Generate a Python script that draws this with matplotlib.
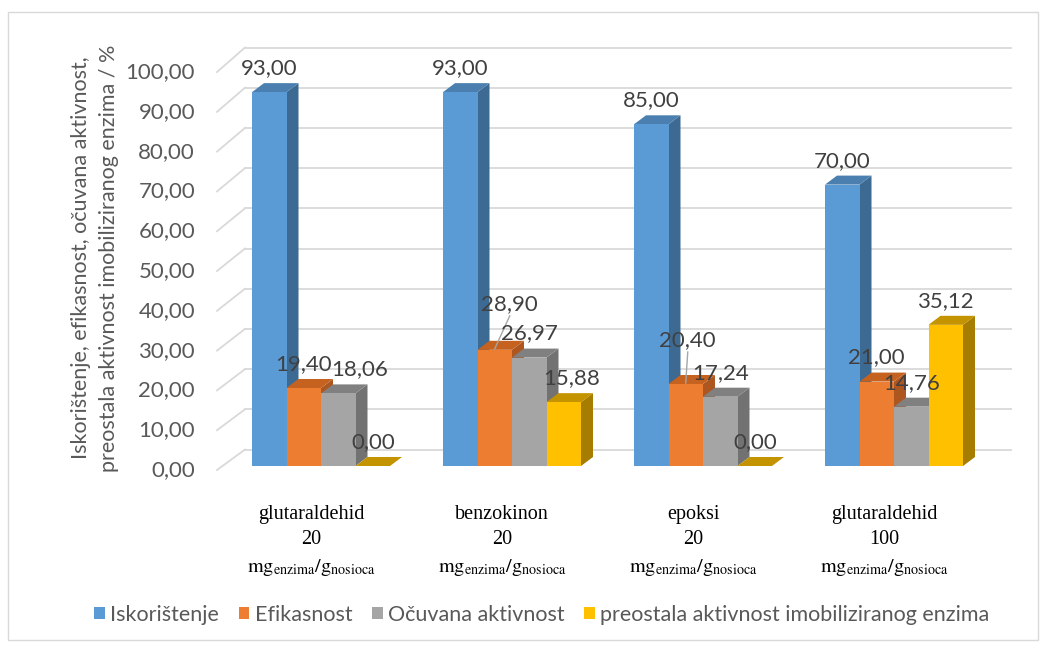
import matplotlib.pyplot as plt
from matplotlib.patches import Polygon, Rectangle

plt.rcParams['font.family'] = ['Lato', 'DejaVu Sans']
plt.rcParams['mathtext.fontset'] = 'stix'

categories = ["glutaraldehid\n20", "benzokinon\n20", "epoksi\n20", "glutaraldehid\n100"]
unit_label = r"$\mathrm{mg_{enzima}/g_{nosioca}}$"
series = ["Iskorištenje", "Efikasnost", "Očuvana aktivnost",
          "preostala aktivnost imobiliziranog enzima"]
iskoristenje = [93.00, 93.00, 85.00, 70.00]
efikasnost = [19.40, 28.90, 20.40, 21.00]
ocuvana = [18.06, 26.97, 17.24, 14.76]
preostala = [0.00, 15.88, 0.00, 35.12]
yticks = [0, 10, 20, 30, 40, 50, 60, 70, 80, 90, 100]
ylabel = "Iskorištenje, efikasnost, očuvana aktivnost,\npreostala aktivnost imobiliziranog enzima / %"

values = [iskoristenje, efikasnost, ocuvana, preostala]
front = ["#5B9BD5", "#ED7D31", "#A5A5A5", "#FFC000"]
side = ["#3D6A93", "#AE5620", "#727272", "#A67D00"]
top = ["#4A7FB0", "#C6621F", "#808080", "#C49300"]

# pixel -> data helpers (one category = 191 px, one value unit = 4.02 px)
PX = 1 / 191
PY = 1 / 4.02
W = 34.5 * PX
DX, DY = 12 * PX, 9 * PY
WALL_DY = 4.1

# label tweaks (px) for the labels Excel moved by hand: (series, group): (dx, dy, leader)
label_shift = {(2, 0): (21, 0, False), (1, 1): (15, 22, True),
               (3, 1): (8, 0, False), (1, 2): (2, 20, True)}

fig = plt.figure(figsize=(10.46, 6.48), dpi=100)
ax = fig.add_axes([0, 0, 1, 1])
ax.set_xlim(-321 * PX, (1046 - 321) * PX)
ax.set_ylim(-(648 - 466) * PY, 466 * PY)
ax.axis('off')

fig.patches.append(Rectangle((8 / 1046, 8 / 648), 1030 / 1046, 628 / 648, transform=fig.transFigure,
                             fill=False, edgecolor="#D9D9D9", linewidth=1.0))

grid_c = "#D9D9D9"
x_front = -104 * PX
x_wall = -76 * PX
x_end = 690 * PX
for t in yticks:
    yf = -1 + 0.99 * t
    yb = t + WALL_DY
    ax.plot([x_front, x_wall], [yf, yb], color=grid_c, lw=1.3, zorder=1)
    ax.plot([x_wall, x_end], [yb, yb], color=grid_c, lw=1.3, zorder=1)
    ax.text(x_front - 22 * PX, yf, f"{t:.2f}".replace('.', ','), ha='right', va='center',
            fontsize=16, color="#595959")

for g in range(len(categories)):
    for s in range(len(series)):
        v = values[s][g]
        x0 = g - 2 * W + s * W
        x1 = x0 + W
        ax.add_patch(Polygon([(x1, 0), (x1 + DX, DY), (x1 + DX, v + DY), (x1, v)],
                             closed=True, facecolor=side[s], edgecolor='none', zorder=2))
        ax.add_patch(Polygon([(x0, v), (x1, v), (x1 + DX, v + DY), (x0 + DX, v + DY)],
                             closed=True, facecolor=top[s], edgecolor='none', zorder=2))
        if v > 0:
            ax.add_patch(Rectangle((x0, 0), W, v, facecolor=front[s], edgecolor='none', zorder=2))

for g in range(len(categories)):
    for s in range(len(series)):
        v = values[s][g]
        xc = g - 2 * W + (s + 0.5) * W
        sx, sy, leader = label_shift.get((s, g), (0, 0, False))
        ly = v + (24 + sy) * PY
        ax.text(xc + sx * PX, ly, f"{v:.2f}".replace('.', ','), ha='center', va='center',
                fontsize=16, color="#404040", zorder=5)
        if leader:
            ax.plot([xc + sx * PX, xc], [ly - 12 * PY, v + 1 * PY], color="#A6A6A6", lw=1, zorder=5)

for g, cat in enumerate(categories):
    xc = g - 10 * PX
    ax.text(xc, -(505 - 466) * PY, cat, ha='center', va='top', fontsize=14.5,
            family='Liberation Serif', color="black", linespacing=1.45)
    ax.text(xc, -(567 - 466) * PY, unit_label, ha='center', va='center', fontsize=14.5, color="black")

fig.text(95 / 1046, 1 - 258 / 648, ylabel, rotation=90, ha='center', va='center',
         fontsize=15.5, color="#595959", linespacing=1.5, multialignment='center')

handles = [Rectangle((0, 0), 1, 1, facecolor=c, edgecolor='none') for c in front]
fig.legend(handles, series, loc='center', bbox_to_anchor=(0.518, 33 / 648), ncol=4, frameon=False,
           fontsize=15.5, handlelength=0.5, handleheight=0.5, handletextpad=0.25, columnspacing=0.9,
           labelcolor="#595959")

fig.savefig("out.png", dpi=100)
